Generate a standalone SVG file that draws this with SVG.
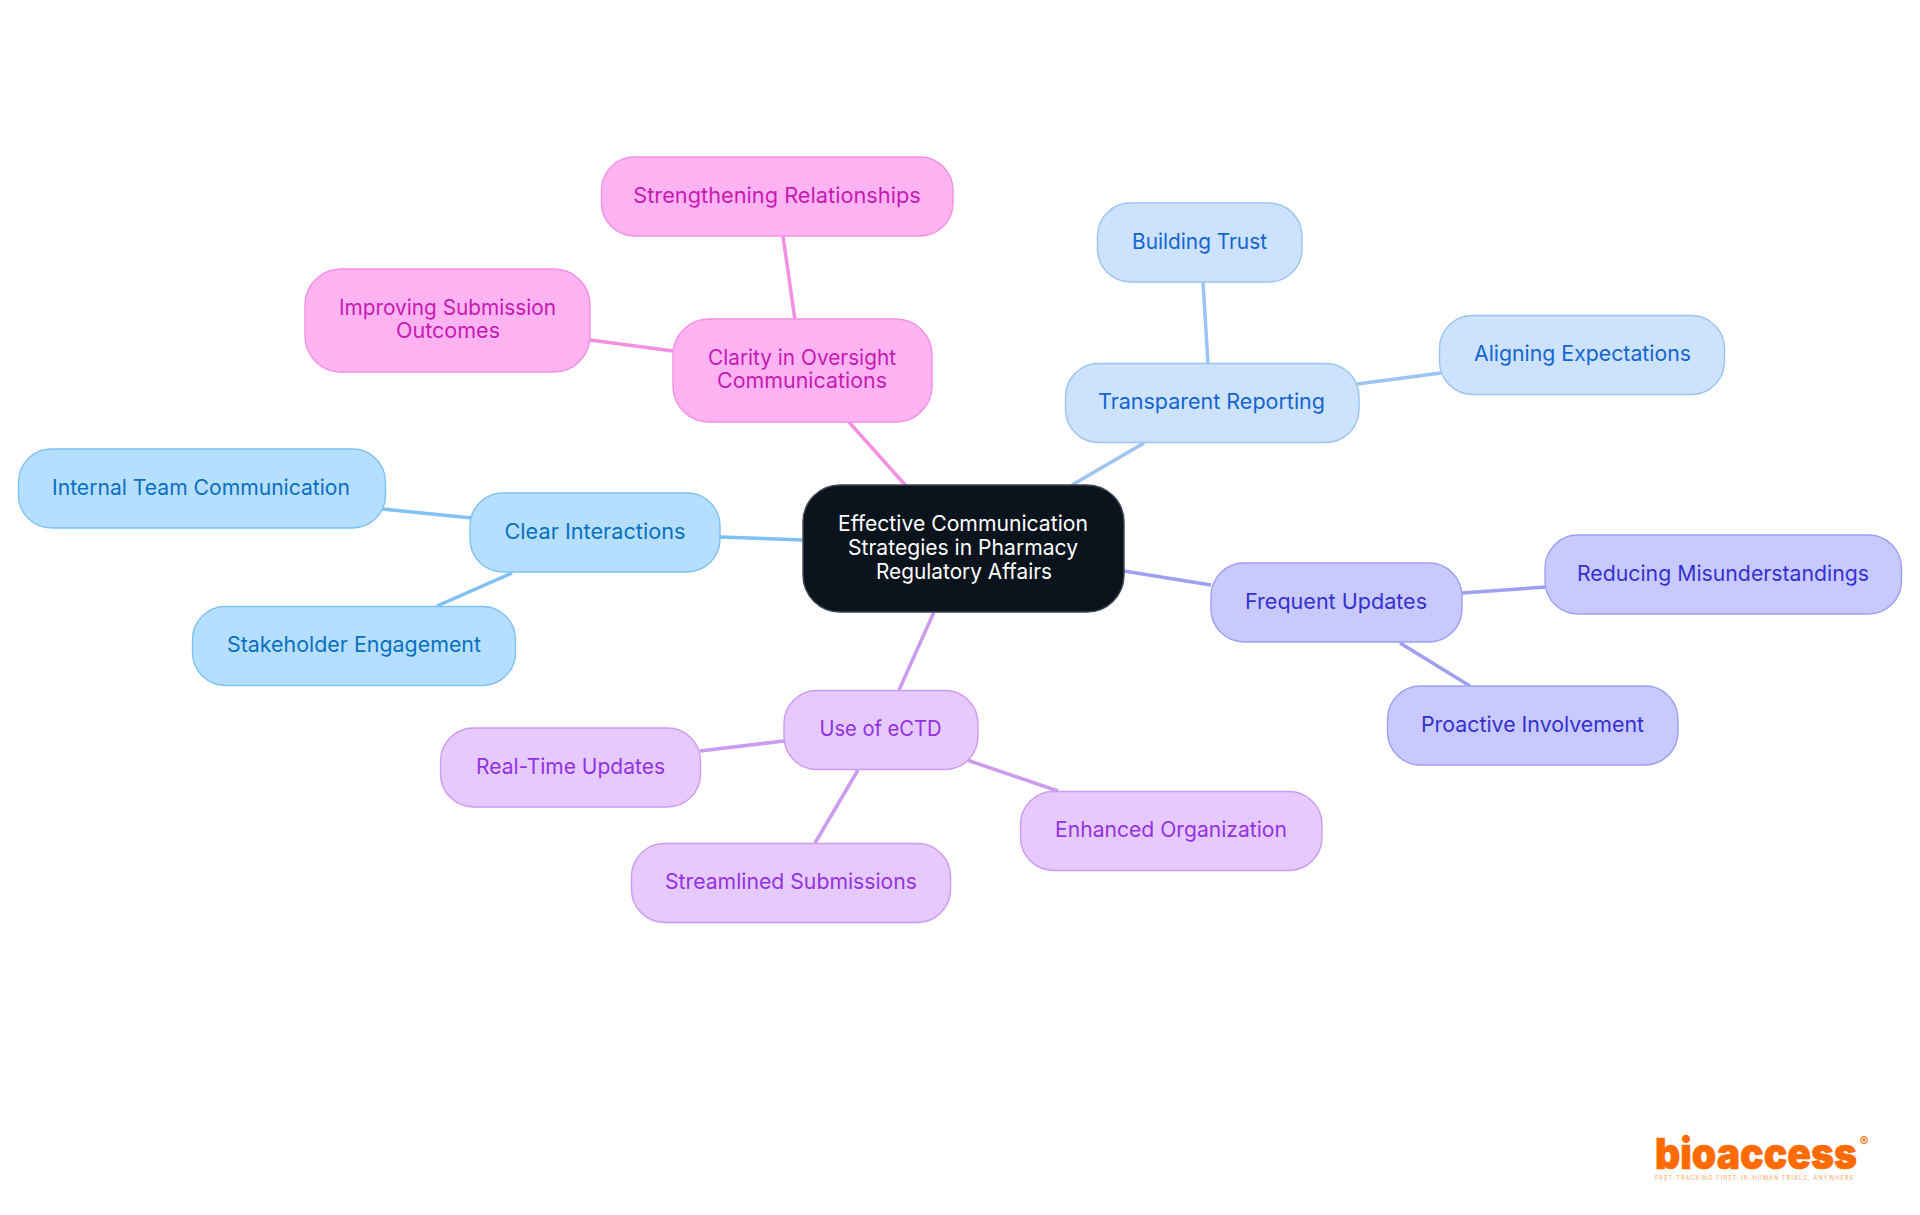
<svg xmlns="http://www.w3.org/2000/svg" width="1920" height="1215" viewBox="0 0 1920 1215">
<style>
text{font-family:"Inter","Noto Sans","Liberation Sans",sans-serif;font-size:21.5px;text-anchor:middle}
.n rect{stroke-width:1.4}
#connectors path{fill:none;stroke-width:3.5}
.pink rect{fill:#ffb3f3;stroke:#f48fe4}.pink text{fill:#c71ab4}
.sky rect{fill:#b6dfff;stroke:#7fc1f2}.sky text{fill:#0a70c0}
.blue rect{fill:#cce2fd;stroke:#9cc4f2}.blue text{fill:#1565d0}
.ind rect{fill:#c8caff;stroke:#9f9ff2}.ind text{fill:#3730d0}
.pur rect{fill:#e6c9ff;stroke:#cb9bf0}.pur text{fill:#9333e0}
</style>
<rect width="1920" height="1215" fill="#fff"/>
<g id="connectors">
<path d="M907 487L848 421M795 320L783 236M673 351L590 340" stroke="#f48fe4"/>
<path d="M1072 485L1144 443M1208 364L1203 282M1357 384L1441 373" stroke="#9cc4f2"/>
<path d="M803 540L720 537M472 518L382 509M512 573L437 606" stroke="#7fc1f2"/>
<path d="M1124 571L1211 585M1462 593L1546 587M1400 643L1470 686" stroke="#9f9ff2"/>
<path d="M934 612L899 690M784 741L700 751M858 770L815 843M967 760L1058 791" stroke="#cb9bf0"/>
</g>
<g id="center"><rect x="803" y="485" width="321" height="127" rx="37" fill="#0b131c" stroke="#3f4650" stroke-width="1.4"/>
<text fill="#fff" x="963" y="530.5" textLength="250" lengthAdjust="spacingAndGlyphs">Effective Communication</text><text fill="#fff" x="963" y="554.5" textLength="230" lengthAdjust="spacingAndGlyphs">Strategies in Pharmacy</text><text fill="#fff" x="964" y="578.5" textLength="176" lengthAdjust="spacingAndGlyphs">Regulatory Affairs</text></g>
<g id="clarity" class="pink n"><rect x="673" y="319" width="259" height="103" rx="36"/><text x="802" y="365" textLength="188" lengthAdjust="spacingAndGlyphs">Clarity in Oversight</text><text x="802" y="388" textLength="170" lengthAdjust="spacingAndGlyphs">Communications</text></g>
<g id="strengthening" class="pink n"><rect x="601.5" y="157" width="351.5" height="79" rx="33"/><text x="777" y="203" textLength="287.5" lengthAdjust="spacingAndGlyphs">Strengthening Relationships</text></g>
<g id="improving" class="pink n"><rect x="305" y="269" width="285" height="103" rx="36"/><text x="447.5" y="315" textLength="217" lengthAdjust="spacingAndGlyphs">Improving Submission</text><text x="448" y="338" textLength="104" lengthAdjust="spacingAndGlyphs">Outcomes</text></g>
<g id="transparent" class="blue n"><rect x="1065.5" y="363.5" width="293.5" height="79" rx="33"/><text x="1211.5" y="409" textLength="227" lengthAdjust="spacingAndGlyphs">Transparent Reporting</text></g>
<g id="trust" class="blue n"><rect x="1097.5" y="203" width="204.5" height="79" rx="33"/><text x="1199.5" y="249" textLength="135" lengthAdjust="spacingAndGlyphs">Building Trust</text></g>
<g id="aligning" class="blue n"><rect x="1439.5" y="315.5" width="285" height="79" rx="33"/><text x="1582.5" y="361" textLength="217" lengthAdjust="spacingAndGlyphs">Aligning Expectations</text></g>
<g id="clear" class="sky n"><rect x="470" y="493" width="250" height="79" rx="33"/><text x="595" y="539" textLength="181" lengthAdjust="spacingAndGlyphs">Clear Interactions</text></g>
<g id="internal" class="sky n"><rect x="18.5" y="449" width="367" height="79" rx="33"/><text x="201" y="495" textLength="298" lengthAdjust="spacingAndGlyphs">Internal Team Communication</text></g>
<g id="stakeholder" class="sky n"><rect x="192.5" y="606.5" width="323" height="79" rx="33"/><text x="354" y="652" textLength="254" lengthAdjust="spacingAndGlyphs">Stakeholder Engagement</text></g>
<g id="frequent" class="ind n"><rect x="1211" y="563" width="251" height="79" rx="33"/><text x="1336" y="609" textLength="182" lengthAdjust="spacingAndGlyphs">Frequent Updates</text></g>
<g id="reducing" class="ind n"><rect x="1545" y="535" width="356.5" height="79" rx="33"/><text x="1723" y="581" textLength="292" lengthAdjust="spacingAndGlyphs">Reducing Misunderstandings</text></g>
<g id="proactive" class="ind n"><rect x="1387.5" y="686" width="290.5" height="79" rx="33"/><text x="1532.5" y="732" textLength="223" lengthAdjust="spacingAndGlyphs">Proactive Involvement</text></g>
<g id="ectd" class="pur n"><rect x="784" y="690.5" width="194" height="79" rx="33"/><text x="880.5" y="736" textLength="122" lengthAdjust="spacingAndGlyphs">Use of eCTD</text></g>
<g id="realtime" class="pur n"><rect x="440.5" y="728" width="260" height="79" rx="33"/><text x="570.5" y="774" textLength="189" lengthAdjust="spacingAndGlyphs">Real-Time Updates</text></g>
<g id="streamlined" class="pur n"><rect x="631.5" y="843.5" width="319" height="79" rx="33"/><text x="791" y="889" textLength="252" lengthAdjust="spacingAndGlyphs">Streamlined Submissions</text></g>
<g id="enhanced" class="pur n"><rect x="1020.5" y="791.5" width="301.5" height="79" rx="33"/><text x="1171" y="837" textLength="232" lengthAdjust="spacingAndGlyphs">Enhanced Organization</text></g>
<g id="logo">
<text x="1655" y="1169" style="font-size:43px;font-weight:900;text-anchor:start;stroke:#ff6b00;stroke-width:.7" fill="#ff6b00" textLength="202" lengthAdjust="spacingAndGlyphs">bioaccess</text>
<text x="1864" y="1146" style="font-size:13px;font-weight:700" fill="#ff6b00">®</text>
<text x="1655" y="1180" style="font-size:5.5px;text-anchor:start" fill="#ffa060" textLength="198" lengthAdjust="spacing">FAST-TRACKING FIRST-IN-HUMAN TRIALS, ANYWHERE</text>
</g>
</svg>
